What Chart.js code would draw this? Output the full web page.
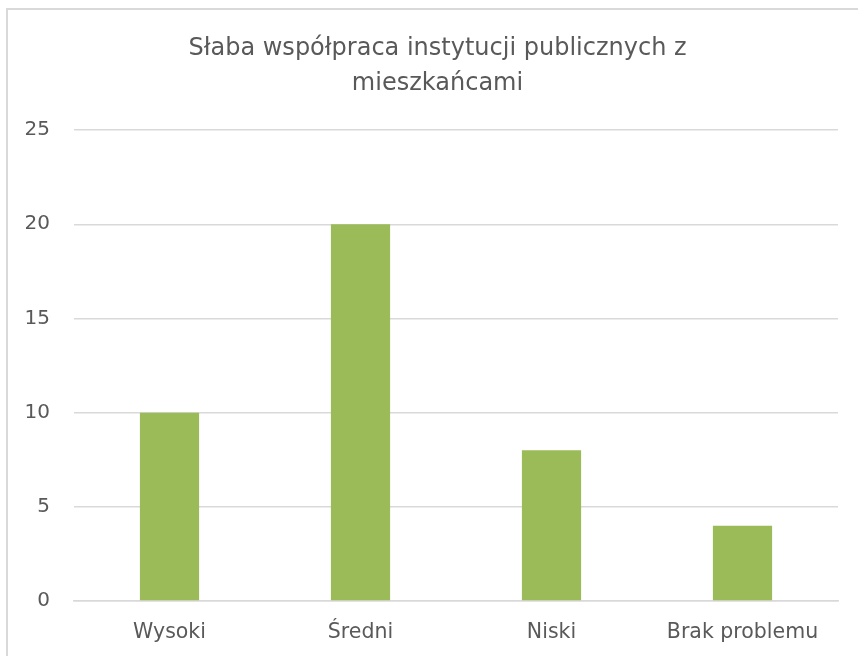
<!DOCTYPE html>
<html>
<head>
<meta charset="utf-8">
<script src="https://cdn.jsdelivr.net/npm/chart.js@4"></script>
<style>
  body { margin: 0; background: #fff; overflow: hidden; }
  #frame { position: absolute; left: 6px; top: 8px; width: 900px; height: 700px; border: 2px solid #d9d9d9; }
  #c { position: absolute; left: 8px; top: 10px; }
</style>
</head>
<body>
<div id="frame"></div>
<canvas id="c" width="850" height="646"></canvas>
<script>
// dane wykresu
const categories = ['Wysoki', 'Średni', 'Niski', 'Brak problemu'];
const values = [10, 20, 8, 4];
const titleLines = ['Słaba współpraca instytucji publicznych z', 'mieszkańcami'];

const FONT = "'DejaVu Sans', sans-serif";

// przesunięcie tytułu trochę w prawo (jak w Excelu)
const titleShift = {
  id: 'titleShift',
  afterLayout: function(chart) {
    if (chart.titleBlock) chart.titleBlock.left += 29;
  }
};

let ctx = document.getElementById('c');
let config = {
  type: 'bar',
  data: {
    labels: categories,
    datasets: [{
      data: values,
      backgroundColor: '#9bbb59',
      borderWidth: 0,
      categoryPercentage: 1.0,
      barPercentage: 0.31,
    }],
  },
  options: {
    responsive: false,
    animation: false,
    layout: { padding: { top: 0, right: 20, left: 0, bottom: 0 } },
    plugins: {
      legend: { display: false },
      tooltip: { enabled: false },
      title: {
        display: true,
        text: titleLines,
        color: '#595959',
        font: { family: FONT, size: 24, weight: 'normal', lineHeight: 1.46 },
        padding: { top: 21, bottom: 29 },
      },
    },
    scales: {
      x: {
        grid: { display: false, drawTicks: false },
        border: { color: '#d9d9d9', width: 1.5 },
        ticks: { color: '#595959', font: { family: FONT, size: 20.5 }, padding: 19 },
        afterFit: function(scale) { scale.height = 55; },
      },
      y: {
        min: 0, max: 25,
        grid: { color: '#d9d9d9', lineWidth: 1.5, drawTicks: false },
        border: { display: false },
        ticks: { stepSize: 5, color: '#595959', font: { family: FONT, size: 20 }, padding: 24 },
        afterFit: function(scale) { scale.width = 66; },
      },
    },
  },
  plugins: [titleShift],
};
new Chart(ctx, config);
</script>
</body>
</html>
